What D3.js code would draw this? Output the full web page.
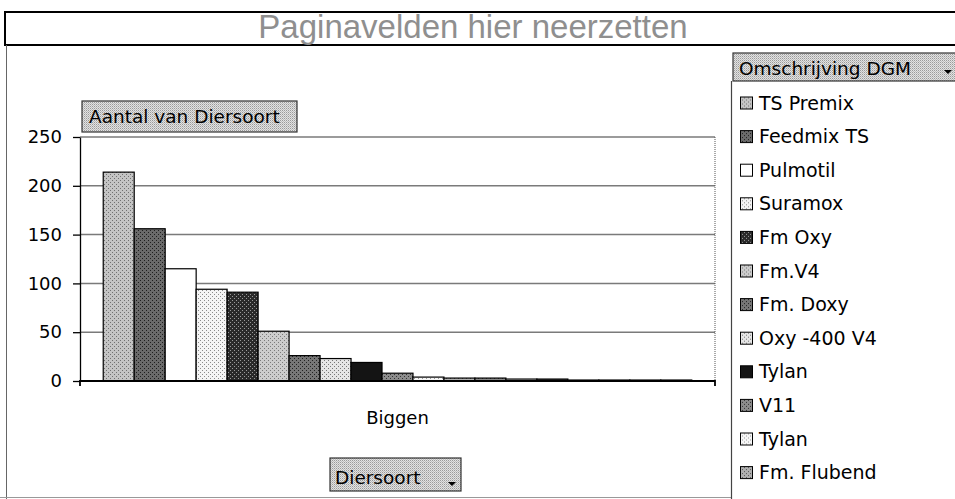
<!DOCTYPE html>
<html><head><meta charset="utf-8">
<script src="https://cdn.jsdelivr.net/npm/d3@7"></script>
<style>html,body{margin:0;padding:0;background:#fff;overflow:hidden}svg{display:block}</style>
</head><body>
<svg id="chart" width="955" height="499"></svg>
<script>
// ---- data ----
const categories = ["Biggen"];
const seriesNames = ["TS Premix","Feedmix TS","Pulmotil","Suramox","Fm Oxy","Fm.V4","Fm. Doxy","Oxy -400 V4","Tylan","V11","Tylan","Fm. Flubend"];
const counts = [214,156,115,94,91,51,26,23,19,8,4,3,3,2,2,1,1,1,1];
const yTicks = [0,50,100,150,200,250];
const pageFieldText = "Paginavelden hier neerzetten";
const dataFieldText = "Aantal van Diersoort";
const rowFieldText = "Diersoort";
const legendTitle = "Omschrijving DGM";

// grey "print" fills: [background, dot colour]
const fills = [
  ["#c4c4c4","#707070"],["#6a6a6a","#1e1e1e"],["#ffffff","#ffffff"],["#f4f4f4","#8a8a8a"],
  ["#2a2a2a","#9a9a9a"],["#cccccc","#7a7a7a"],["#777777","#222222"],["#e6e6e6","#777777"],
  ["#141414","#141414"],["#8c8c8c","#333333"],["#f6f6f6","#999999"],["#b0b0b0","#555555"],
  ["#888888","#333333"],["#d8d8d8","#666666"],["#3a3a3a","#999999"],["#a0a0a0","#444444"],
  ["#eeeeee","#888888"],["#555555","#111111"],["#bbbbbb","#555555"]
];

const svg = d3.select("#chart");
const font = "'DejaVu Sans', sans-serif";
const defs = svg.append("defs");
fills.forEach((f,i)=>{
  const p = defs.append("pattern").attr("id","p"+i).attr("patternUnits","userSpaceOnUse")
    .attr("width",4).attr("height",4);
  p.append("rect").attr("width",4).attr("height",4).attr("fill",f[0]);
  p.append("rect").attr("x",0).attr("y",0).attr("width",1).attr("height",1).attr("fill",f[1]);
  p.append("rect").attr("x",2).attr("y",2).attr("width",1).attr("height",1).attr("fill",f[1]);
});
const btn = defs.append("pattern").attr("id","btn").attr("patternUnits","userSpaceOnUse").attr("width",2).attr("height",2);
btn.append("rect").attr("width",2).attr("height",2).attr("fill","#e2e2e2");
btn.append("rect").attr("width",1).attr("height",1).attr("fill","#9a9a9a");
btn.append("rect").attr("x",1).attr("y",1).attr("width",1).attr("height",1).attr("fill","#bdbdbd");

// ---- page field drop zone ----
svg.append("rect").attr("x",5).attr("y",12).attr("width",960).attr("height",33)
  .attr("fill","#fff").attr("stroke","#000").attr("stroke-width",2);
svg.append("text").attr("x",473).attr("y",38).attr("text-anchor","middle")
  .attr("font-family","'Liberation Sans', Arial, sans-serif").attr("font-size",33)
  .attr("fill","#8f8f8f").text(pageFieldText);

// outer frame lines
svg.append("line").attr("x1",6.5).attr("x2",6.5).attr("y1",45).attr("y2",499).attr("stroke","#666");
svg.append("line").attr("x1",0).attr("x2",731).attr("y1",497.5).attr("y2",497.5).attr("stroke","#999");

// ---- plot ----
const plot = {left:80, right:715, top:137, bottom:381};
const y = d3.scaleLinear().domain([0,250]).range([plot.bottom, plot.top]);
const xCat = d3.scaleBand().domain(categories).range([plot.left, plot.right]);
const gapRatio = 1.5;
const barW = xCat.bandwidth()/(counts.length + gapRatio);
const xSer = d3.scaleBand().domain(d3.range(counts.length))
  .range([barW*gapRatio/2, xCat.bandwidth()-barW*gapRatio/2]).padding(0);

// gridlines
svg.append("g").selectAll("line").data(yTicks.filter(t=>t>0)).join("line")
  .attr("x1",plot.left).attr("x2",plot.right).attr("y1",d=>y(d)).attr("y2",d=>y(d))
  .attr("stroke","#7a7a7a").attr("stroke-width",1.5);
// right border dotted
svg.append("line").attr("x1",plot.right).attr("x2",plot.right).attr("y1",plot.top).attr("y2",plot.bottom)
  .attr("stroke","#555").attr("stroke-dasharray","1,1");

// bars
const gCat = svg.append("g").selectAll("g").data(categories).join("g")
  .attr("transform",d=>`translate(${xCat(d)},0)`);
gCat.selectAll("rect").data(counts.map((v,i)=>({v,i}))).join("rect")
  .attr("x",d=>xSer(d.i)).attr("width",xSer.bandwidth())
  .attr("y",d=>y(d.v)).attr("height",d=>y(0)-y(d.v))
  .attr("fill",d=>`url(#p${d.i})`).attr("stroke","#000").attr("stroke-width",1.2);

// y axis
const yAxis = d3.axisLeft(y).tickValues(yTicks).tickSize(7).tickPadding(11).tickSizeOuter(0);
const gy = svg.append("g").attr("transform",`translate(${plot.left},0)`).call(yAxis);
gy.selectAll("text").attr("font-family",font).attr("font-size",18).attr("fill","#000");
gy.selectAll("line,path").attr("stroke","#000").attr("stroke-width",1.3);

// x axis
const xAxis = d3.axisBottom(xCat).tickSize(0).tickPadding(30);
const gx = svg.append("g").attr("transform",`translate(0,${plot.bottom})`).call(xAxis);
gx.select(".domain").attr("stroke","#000").attr("stroke-width",1.8).attr("d",`M${plot.left},5V0H${plot.right}V5`);
gx.selectAll("text").attr("font-family",font).attr("font-size",18).attr("fill","#000");

// ---- field buttons ----
function fieldButton(x0,y0,w,h,label,tx,ty,arrow){
  const g = svg.append("g");
  g.append("rect").attr("x",x0).attr("y",y0).attr("width",w).attr("height",h)
    .attr("fill","url(#btn)").attr("stroke","#333").attr("stroke-width",1.2);
  g.append("text").attr("x",tx).attr("y",ty).attr("font-family",font).attr("font-size",18.5)
    .attr("fill","#000").text(label);
  if(arrow){
    g.append("path").attr("d",`M${arrow[0]-4},${arrow[1]}h8l-4,4z`).attr("fill","#000");
  }
}
fieldButton(82,101,215,31,dataFieldText,89,123,null);
fieldButton(330,458,131,33,rowFieldText,335,484,[452,482]);
fieldButton(733,53,230,28,legendTitle,739,75,[948,70]);

// ---- legend ----
svg.append("line").attr("x1",731.5).attr("x2",731.5).attr("y1",81).attr("y2",499).attr("stroke","#444").attr("stroke-width",1.2);
const leg = svg.append("g").selectAll("g").data(seriesNames).join("g")
  .attr("transform",(d,i)=>`translate(0,${109.5 + i*33.6})`);
leg.append("rect").attr("x",740.5).attr("y",-12.5).attr("width",12).attr("height",12)
  .attr("fill",(d,i)=>`url(#p${i})`).attr("stroke","#000").attr("stroke-width",1);
leg.append("text").attr("x",759).attr("y",0).attr("font-family",font).attr("font-size",19)
  .attr("fill","#000").text(d=>d);
</script>
</body></html>
